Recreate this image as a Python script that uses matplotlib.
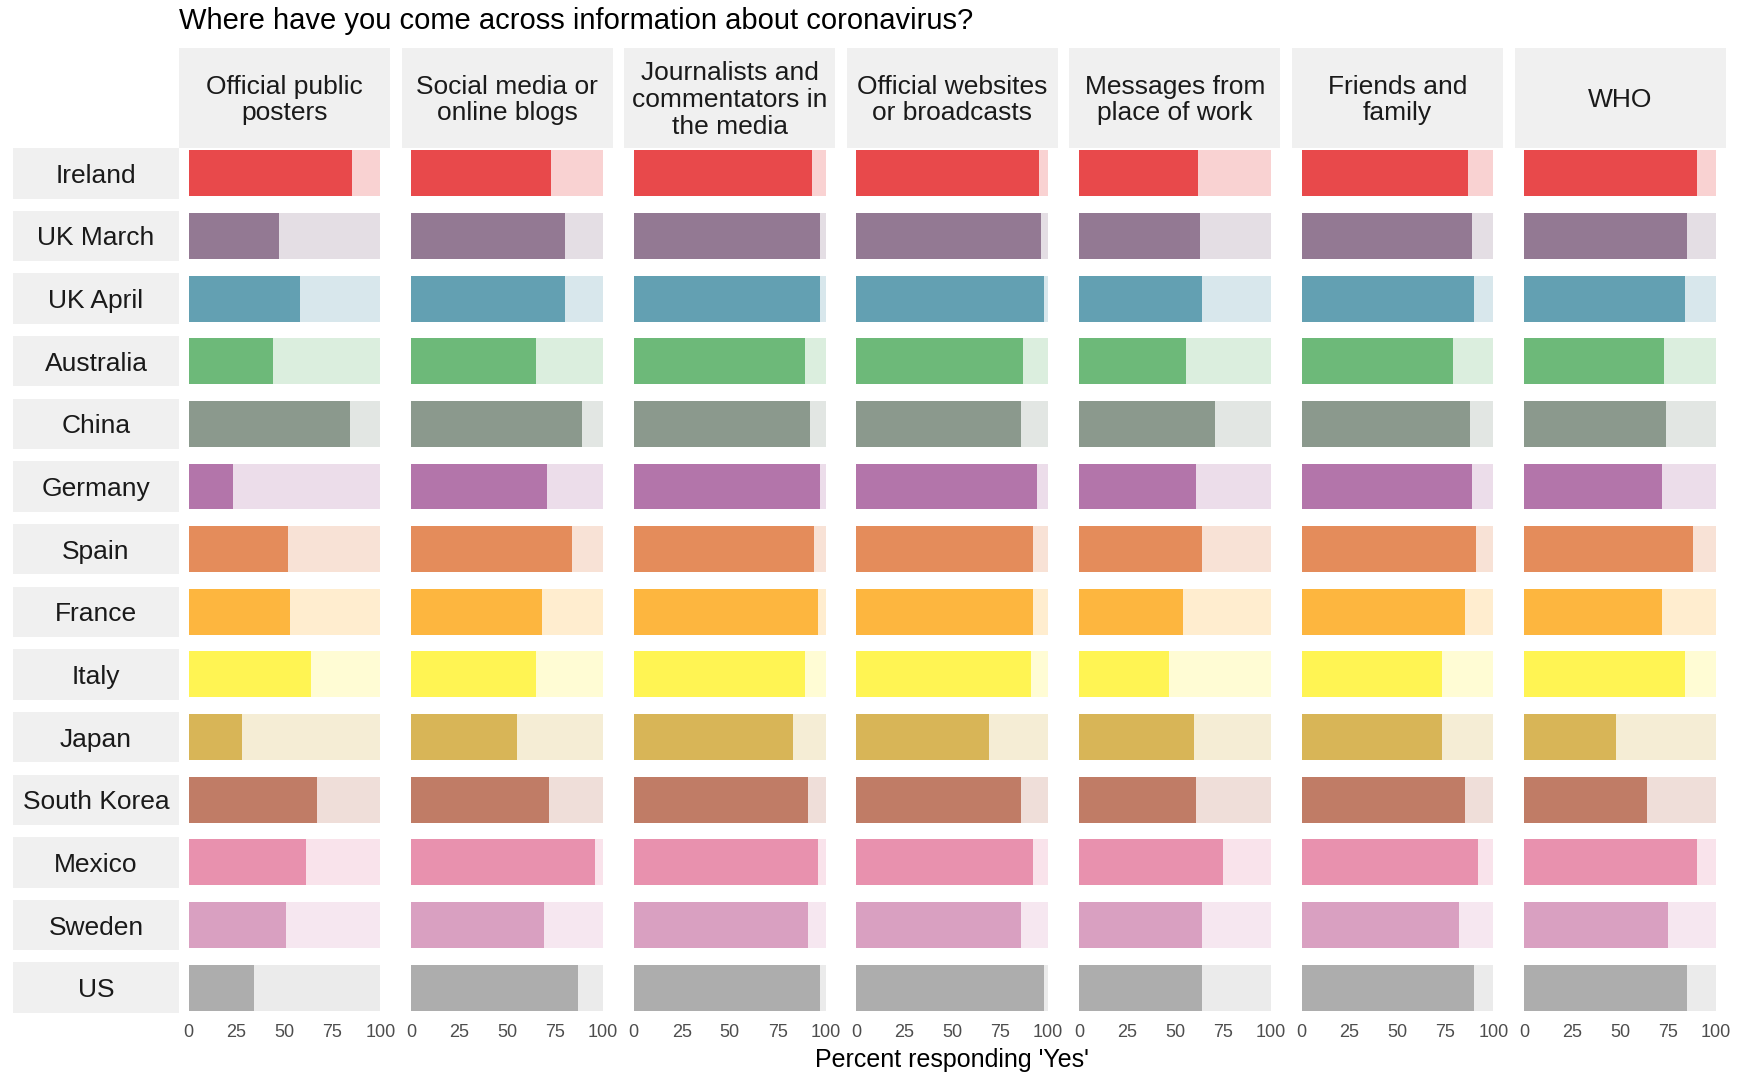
import matplotlib
matplotlib.use("Agg")
from matplotlib import pyplot as plt
from matplotlib.colors import to_rgb

plt.rcParams['font.family'] = ['Liberation Sans', 'DejaVu Sans']

countries = ["Ireland", "UK March", "UK April", "Australia", "China", "Germany", "Spain",
             "France", "Italy", "Japan", "South Korea", "Mexico", "Sweden", "US"]

sources = ["Official public\nposters", "Social media or\nonline blogs",
           "Journalists and\ncommentators in\nthe media", "Official websites\nor broadcasts",
           "Messages from\nplace of work", "Friends and\nfamily", "WHO"]

# percent answering 'Yes', one list per source, in country order
official_posters = [85, 47, 58, 44, 84, 23, 52, 53, 64, 28, 67, 61, 51, 34]
social_media = [73, 80, 80, 65, 89, 71, 84, 68, 65, 55, 72, 96, 69, 87]
journalists = [93, 97, 97, 89, 92, 97, 94, 96, 89, 83, 91, 96, 91, 97]
official_websites = [95, 96, 98, 87, 86, 94, 92, 92, 91, 69, 86, 92, 86, 98]
work_messages = [62, 63, 64, 56, 71, 61, 64, 54, 47, 60, 61, 75, 64, 64]
friends_family = [87, 89, 90, 79, 88, 89, 91, 85, 73, 73, 85, 92, 82, 90]
who = [90, 85, 84, 73, 74, 72, 88, 72, 84, 48, 64, 90, 75, 85]

country_colours = ["#E8494B", "#937993", "#63A0B2", "#6DB979", "#8B998D", "#B375AA", "#E48C5B",
                   "#FDB63F", "#FFF453", "#D8B557", "#C07C66", "#E891AE", "#D9A0C1", "#ADADAD"]

ticks = [0, 25, 50, 75, 100]

W, H = 1745, 1073
STRIP = "#F0F0F0"


def box(x0, y0, w, h):
    # pixel box (top-left origin) -> figure fraction rect
    return [x0 / W, 1 - (y0 + h) / H, w / W, h / H]


def faded(colour, alpha=0.25):
    r, g, b = to_rgb(colour)
    return (1 - alpha + alpha * r, 1 - alpha + alpha * g, 1 - alpha + alpha * b)


def strip(fig, rect, label, size, ypos=0.5, va="center_baseline", spacing=1.08):
    ax = fig.add_axes(rect)
    ax.set_facecolor(STRIP)
    ax.set_xticks([])
    ax.set_yticks([])
    for s in ax.spines.values():
        s.set_visible(False)
    ax.text(0.5, ypos, label, ha="center", va=va, fontsize=size,
            color="#1A1A1A", linespacing=spacing, transform=ax.transAxes)
    return ax


def main():
    values = [official_posters, social_media, journalists, official_websites,
              work_messages, friends_family, who]

    fig = plt.figure(figsize=(W / 100, H / 100), dpi=100)

    col_x0, col_step, col_w = 179, 222.6, 211
    row_y0, row_step, row_h = 148, 62.65, 50.5

    for i, src in enumerate(sources):
        strip(fig, box(col_x0 + col_step * i, 48, col_w, 100), src, 19,
              ypos=0.48, va="center", spacing=1.15)

    for j, country in enumerate(countries):
        y = row_y0 + row_step * j
        strip(fig, box(13, y, 166, row_h), country, 19)
        for i, vals in enumerate(values):
            ax = fig.add_axes(box(col_x0 + col_step * i, y, col_w, row_h))
            ax.barh(0, 100, height=0.91, color=faded(country_colours[j]))
            ax.barh(0, vals[j], height=0.91, color=country_colours[j])
            ax.set_xlim(-5, 105)
            ax.set_ylim(-0.5, 0.5)
            for s in ax.spines.values():
                s.set_visible(False)
            ax.set_yticks([])
            if j == len(countries) - 1:
                ax.set_xticks(ticks)
                ax.tick_params(axis="x", length=0, pad=8, labelsize=13, labelcolor="#4D4D4D")
            else:
                ax.set_xticks([])

    fig.text(179 / W, 1 - 21 / H, "Where have you come across information about coronavirus?",
             ha="left", va="center", fontsize=21, color="black")
    fig.text(952 / W, 1 - 1060 / H, "Percent responding 'Yes'",
             ha="center", va="center", fontsize=18, color="black")

    fig.savefig("out.png", dpi=100, facecolor="white")


if __name__ == "__main__":
    main()
